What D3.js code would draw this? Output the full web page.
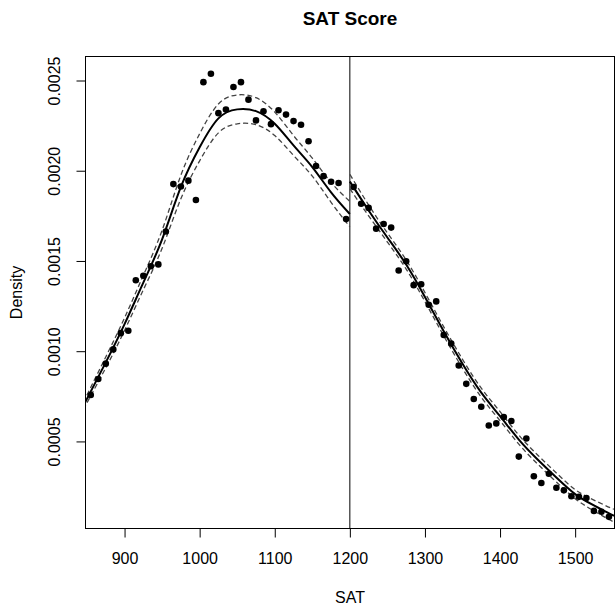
<!DOCTYPE html>
<html>
<head>
<meta charset="utf-8">
<script src="https://cdn.jsdelivr.net/npm/d3@7"></script>
<style>
  html, body { margin: 0; padding: 0; background: #fff; }
  svg { display: block; font-family: "Liberation Sans", Arial, Helvetica, sans-serif; }
</style>
</head>
<body>
<svg id="chart" width="615" height="612"></svg>
<script>
// Binned density of SAT scores (bin midpoints, 10-point bins)
const binsLeft = [855, 865, 875, 885, 895, 905, 915, 925, 935, 945, 955, 965, 975, 985, 995,
  1005, 1015, 1025, 1035, 1045, 1055, 1065, 1075, 1085, 1095, 1105, 1115, 1125, 1135, 1145,
  1155, 1165, 1175, 1185, 1195];
const densLeft = [0.000757, 0.000846, 0.000931, 0.00101, 0.0011, 0.001113, 0.001393, 0.001418,
  0.001471, 0.001481, 0.001663, 0.001926, 0.001913, 0.001945, 0.001838, 0.002491, 0.002537,
  0.002319, 0.002339, 0.002464, 0.002491, 0.002394, 0.002279, 0.002329, 0.002258, 0.002335,
  0.002311, 0.002275, 0.002255, 0.002163, 0.002026, 0.00197, 0.001939, 0.001932, 0.001732];

const binsRight = [1205, 1215, 1225, 1235, 1245, 1255, 1265, 1275, 1285, 1295, 1305, 1315, 1325,
  1335, 1345, 1355, 1365, 1375, 1385, 1395, 1405, 1415, 1425, 1435, 1445, 1455, 1465, 1475,
  1485, 1495, 1505, 1515, 1525, 1535, 1545];
const densRight = [0.00191, 0.001817, 0.001794, 0.001679, 0.001705, 0.001685, 0.001447, 0.001498,
  0.001366, 0.001371, 0.001257, 0.001276, 0.00109, 0.001042, 0.000921, 0.000819, 0.000735,
  0.000692, 0.000588, 0.0006, 0.000635, 0.000613, 0.000416, 0.000516, 0.000307, 0.00027,
  0.000321, 0.000243, 0.000229, 0.000196, 0.000193, 0.000186, 0.000115, 0.00011, 0.000082];

// Local polynomial density fit below the cutoff, with confidence band
const fitLeftX   = [845, 875, 900, 925, 950, 975, 1000, 1025, 1050, 1075, 1100, 1125, 1150, 1175, 1200];
const fitLeftEst = [0.000696, 0.000938, 0.00115, 0.00138, 0.00162, 0.00191, 0.00213, 0.00229,
  0.00234, 0.00233, 0.00226, 0.00214, 0.00202, 0.00188, 0.00176];
const fitLeftHi  = [0.000716, 0.000968, 0.001185, 0.00142, 0.00167, 0.001975, 0.002205, 0.00237,
  0.00242, 0.002405, 0.002325, 0.002195, 0.00207, 0.001935, 0.00183];
const fitLeftLo  = [0.000676, 0.000908, 0.001115, 0.00134, 0.00157, 0.001845, 0.002055, 0.00221,
  0.00226, 0.002255, 0.002195, 0.002085, 0.00197, 0.001825, 0.00169];

// Fit above the cutoff
const fitRightX   = [1200, 1225, 1250, 1275, 1300, 1325, 1350, 1375, 1400, 1425, 1450, 1475, 1500, 1525, 1550, 1560];
const fitRightEst = [0.00194, 0.00178, 0.00163, 0.00148, 0.0013, 0.00111, 0.00093, 0.00077,
  0.00064, 0.00051, 0.0004, 0.0003, 0.000208, 0.000145, 0.000092, 0.00008];
const fitRightHi  = [0.00198, 0.00181, 0.001655, 0.001505, 0.001325, 0.001135, 0.000955, 0.000795,
  0.000665, 0.000535, 0.000425, 0.000325, 0.000233, 0.000175, 0.000127, 0.000115];
const fitRightLo  = [0.0019, 0.00175, 0.001605, 0.001455, 0.001275, 0.001085, 0.000905, 0.000745,
  0.000615, 0.000485, 0.000375, 0.000275, 0.000183, 0.000115, 0.000057, 0.000045];

const cutoff = 1200;
const xTicks = [900, 1000, 1100, 1200, 1300, 1400, 1500];
const yTicks = [0.0005, 0.001, 0.0015, 0.002, 0.0025];

const svg = d3.select("#chart");
const plot = { left: 85.5, right: 614.5, top: 56.5, bottom: 528.5 };

const x = d3.scaleLinear().domain([848, 1552.4]).range([plot.left, plot.right]);
const y = d3.scaleLinear().domain([0.0000175, 0.002633]).range([plot.bottom, plot.top]);

svg.append("defs").append("clipPath").attr("id", "plotclip")
  .append("rect")
  .attr("x", plot.left).attr("y", plot.top)
  .attr("width", plot.right - plot.left).attr("height", plot.bottom - plot.top);

const body = svg.append("g").attr("clip-path", "url(#plotclip)");

// cutoff line
body.append("line")
  .attr("x1", x(cutoff)).attr("x2", x(cutoff))
  .attr("y1", plot.top).attr("y2", plot.bottom)
  .attr("stroke", "#000").attr("stroke-width", 1);

const line = d3.line().x(d => x(d[0])).y(d => y(d[1])).curve(d3.curveNatural);

function drawFit(xs, est, lo, hi) {
  [lo, hi].forEach(band => {
    body.append("path")
      .attr("d", line(d3.zip(xs, band)))
      .attr("fill", "none").attr("stroke", "#444")
      .attr("stroke-width", 1.3).attr("stroke-dasharray", "5,3");
  });
  body.append("path")
    .attr("d", line(d3.zip(xs, est)))
    .attr("fill", "none").attr("stroke", "#000").attr("stroke-width", 2);
}
drawFit(fitLeftX, fitLeftEst, fitLeftLo, fitLeftHi);
drawFit(fitRightX, fitRightEst, fitRightLo, fitRightHi);

// binned points
const pts = d3.zip(binsLeft, densLeft).concat(d3.zip(binsRight, densRight));
svg.append("g").selectAll("circle").data(pts).join("circle")
  .attr("cx", d => x(d[0])).attr("cy", d => y(d[1]))
  .attr("r", 3.3).attr("fill", "#000");

// plot frame
svg.append("rect")
  .attr("x", plot.left).attr("y", plot.top)
  .attr("width", plot.right - plot.left).attr("height", plot.bottom - plot.top)
  .attr("fill", "none").attr("stroke", "#000").attr("stroke-width", 1);

// x axis
const gx = svg.append("g").attr("transform", `translate(0,${plot.bottom})`)
  .call(d3.axisBottom(x).tickValues(xTicks).tickFormat(d3.format("d")).tickSize(9).tickPadding(15.4));
gx.select(".domain").remove();
gx.selectAll("text").attr("font-size", 16).attr("fill", "#000").attr("font-family", null);
gx.selectAll("line").attr("stroke", "#000");

// y axis with labels parallel to the axis
const gy = svg.append("g").attr("transform", `translate(${plot.left},0)`)
  .call(d3.axisLeft(y).tickValues(yTicks).tickFormat(d3.format(".4f")).tickSize(9));
gy.select(".domain").remove();
gy.selectAll("line").attr("stroke", "#000");
gy.selectAll("text")
  .attr("x", null).attr("dy", null)
  .attr("transform", `translate(${60 - plot.left},0) rotate(-90)`)
  .attr("text-anchor", "middle")
  .attr("font-size", 16).attr("fill", "#000").attr("font-family", null);

// titles
svg.append("text").attr("x", (plot.left + plot.right) / 2).attr("y", 25)
  .attr("text-anchor", "middle").attr("font-size", 19).attr("font-weight", "bold")
  .text("SAT Score");
svg.append("text").attr("x", (plot.left + plot.right) / 2).attr("y", 603.3)
  .attr("text-anchor", "middle").attr("font-size", 16).text("SAT");
svg.append("text")
  .attr("transform", `translate(21.5,${(plot.top + plot.bottom) / 2}) rotate(-90)`)
  .attr("text-anchor", "middle").attr("font-size", 16).text("Density");
</script>
</body>
</html>
